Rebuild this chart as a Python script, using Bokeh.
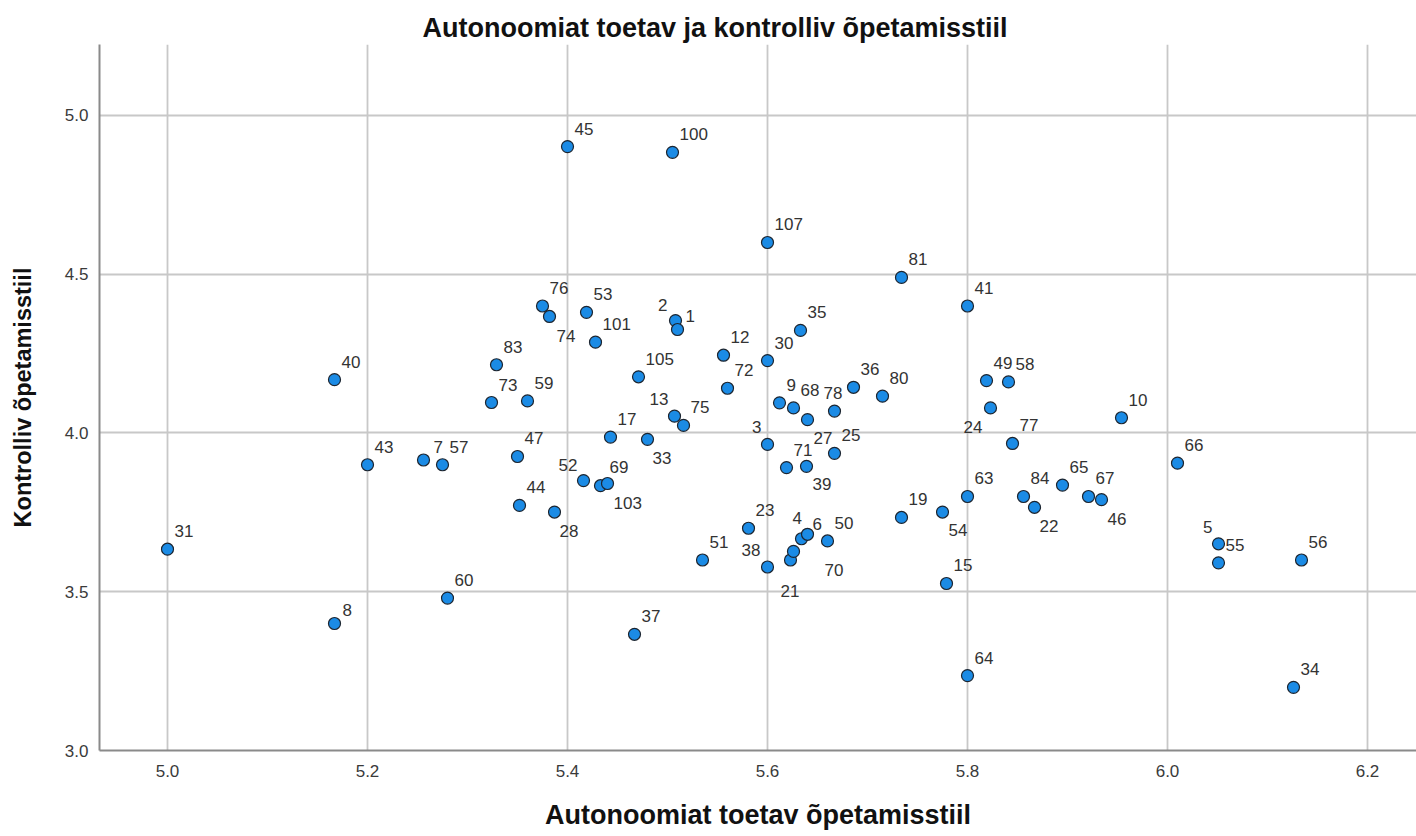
from bokeh.plotting import figure
from bokeh.models import ColumnDataSource, FixedTicker, Range1d, NumeralTickFormatter
from bokeh.embed import file_html
from bokeh.resources import INLINE
from bokeh.core.properties import value, field

# ---- data ----
case_ids = [45, 100, 107, 81, 41, 76, 74, 53, 101, 2, 1, 83, 105, 12, 30, 35, 72, 73, 59,
            13, 75, 17, 33, 47, 52, 103, 69, 44, 28, 3, 9, 68, 27, 78, 36, 80, 71, 39, 25,
            40, 43, 7, 57, 31, 8, 60, 37, 51, 23, 38, 21, 70, 4, 6, 50, 19, 63, 54, 84, 22,
            65, 67, 46, 49, 58, 24, 77, 10, 66, 5, 55, 56, 15, 64, 34]
autonomy = [5.400, 5.505, 5.600, 5.734, 5.800, 5.375, 5.382, 5.419, 5.428, 5.508, 5.510,
            5.329, 5.471, 5.556, 5.600, 5.633, 5.560, 5.324, 5.360, 5.507, 5.516, 5.443,
            5.480, 5.350, 5.416, 5.433, 5.440, 5.352, 5.387, 5.600, 5.612, 5.626, 5.640,
            5.667, 5.686, 5.715, 5.619, 5.639, 5.667, 5.167, 5.200, 5.256, 5.275, 5.000,
            5.167, 5.280, 5.467, 5.535, 5.581, 5.600, 5.623, 5.626, 5.634, 5.640, 5.660,
            5.734, 5.800, 5.775, 5.856, 5.867, 5.895, 5.921, 5.934, 5.819, 5.841, 5.823,
            5.845, 5.954, 6.010, 6.051, 6.051, 6.134, 5.779, 5.800, 6.126]
control = [4.902, 4.884, 4.600, 4.490, 4.400, 4.400, 4.367, 4.380, 4.286, 4.354, 4.326,
           4.215, 4.177, 4.245, 4.228, 4.323, 4.141, 4.096, 4.101, 4.053, 4.024, 3.987,
           3.980, 3.926, 3.850, 3.834, 3.841, 3.772, 3.751, 3.964, 4.095, 4.079, 4.042,
           4.069, 4.144, 4.116, 3.891, 3.895, 3.936, 4.168, 3.900, 3.915, 3.900, 3.634,
           3.400, 3.480, 3.366, 3.600, 3.700, 3.578, 3.600, 3.627, 3.667, 3.681, 3.660,
           3.734, 3.800, 3.751, 3.800, 3.766, 3.836, 3.800, 3.790, 4.165, 4.161, 4.079,
           3.967, 4.048, 3.905, 3.651, 3.591, 3.600, 3.526, 3.236, 3.199]
x_ticks = [5.0, 5.2, 5.4, 5.6, 5.8, 6.0, 6.2]
y_ticks = [3.0, 3.5, 4.0, 4.5, 5.0]

title_text = "Autonoomiat toetav ja kontrolliv õpetamisstiil"
x_label = "Autonoomiat toetav õpetamisstiil"
y_label = "Kontrolliv õpetamisstiil"

# ---- label placement (screen px, style only) ----
BASE_DY = -6
DEFAULT_POS = ("left", 7, -12)
LABEL_POS = {
    74: ("left", 7, 26), 2: ("right", -8, -10), 1: ("left", 8, -7), 13: ("right", -6, -11),
    33: ("left", 5, 25), 52: ("right", -6, -10), 69: ("left", 2, -10), 103: ("left", 13, 23),
    28: ("left", 5, 25), 3: ("right", -6, -11), 78: ("left", -11, -12), 27: ("left", 6, 24),
    39: ("left", 6, 24), 38: ("right", -7, -11), 4: ("left", -9, -15), 6: ("left", 5, -4),
    70: ("left", 31, 25), 21: ("left", -10, 37), 54: ("left", 6, 24), 22: ("left", 5, 25),
    46: ("left", 6, 25), 24: ("right", -8, 25), 5: ("right", -6, -11), 7: ("left", 10, -7),
    8: ("left", 8, -7),
}

aligns, dxs, dys = [], [], []
for cid in case_ids:
    a, dx, dy = LABEL_POS.get(cid, DEFAULT_POS)
    aligns.append(a)
    dxs.append(dx)
    dys.append(dy + BASE_DY)

src = ColumnDataSource(dict(x=autonomy, y=control, label=[str(c) for c in case_ids],
                            align=aligns, dx=dxs, dy=dys))

FONT = "Liberation Sans"

p = figure(width=1416, height=836, output_backend="svg", toolbar_location=None,
           x_range=Range1d(4.932, 6.249), y_range=Range1d(3.0, 5.2236),
           min_border_left=99, min_border_right=0, min_border_top=44, min_border_bottom=86)

p.title.text = title_text
p.title.align = "left"
p.title.offset = 323
p.title.standoff = 4
p.title.text_font = FONT
p.title.text_font_size = "27px"
p.title.text_font_style = "bold"
p.title.text_color = "#111111"

p.outline_line_color = None
p.background_fill_color = "white"
p.border_fill_color = "white"

p.xaxis.ticker = FixedTicker(ticks=x_ticks)
p.yaxis.ticker = FixedTicker(ticks=y_ticks)
p.axis.formatter = NumeralTickFormatter(format="0.0")
p.axis.major_tick_in = 0
p.axis.major_tick_out = 0
p.axis.minor_tick_line_color = None
p.axis.axis_line_color = "#8a8a8a"
p.axis.axis_line_width = 2
p.axis.major_label_text_font = FONT
p.axis.major_label_text_font_size = "17px"
p.axis.major_label_text_color = "#3a3a3a"
p.axis.axis_label_text_font = FONT
p.axis.axis_label_text_font_style = "bold"
p.axis.axis_label_text_color = "#111111"
p.xaxis.axis_label = x_label
p.yaxis.axis_label = y_label
p.xaxis.axis_label_text_font_size = "27px"
p.yaxis.axis_label_text_font_size = "23.5px"
p.xaxis.major_label_standoff = 14
p.yaxis.major_label_standoff = 11
p.xaxis.axis_label_standoff = 20
p.yaxis.axis_label_standoff = 26

p.grid.grid_line_color = "#c8c8c8"
p.grid.grid_line_width = 1.8

p.scatter(x="x", y="y", source=src, size=12, fill_color="#1b8be5",
          line_color="#1c2530", line_width=1.2)
p.text(x="x", y="y", text="label", source=src, x_offset="dx", y_offset="dy",
       text_align=field("align"), text_baseline="alphabetic",
       text_font=value(FONT), text_font_size="17px", text_color="#333333")

open("out.html", "w").write(file_html(p, INLINE))
